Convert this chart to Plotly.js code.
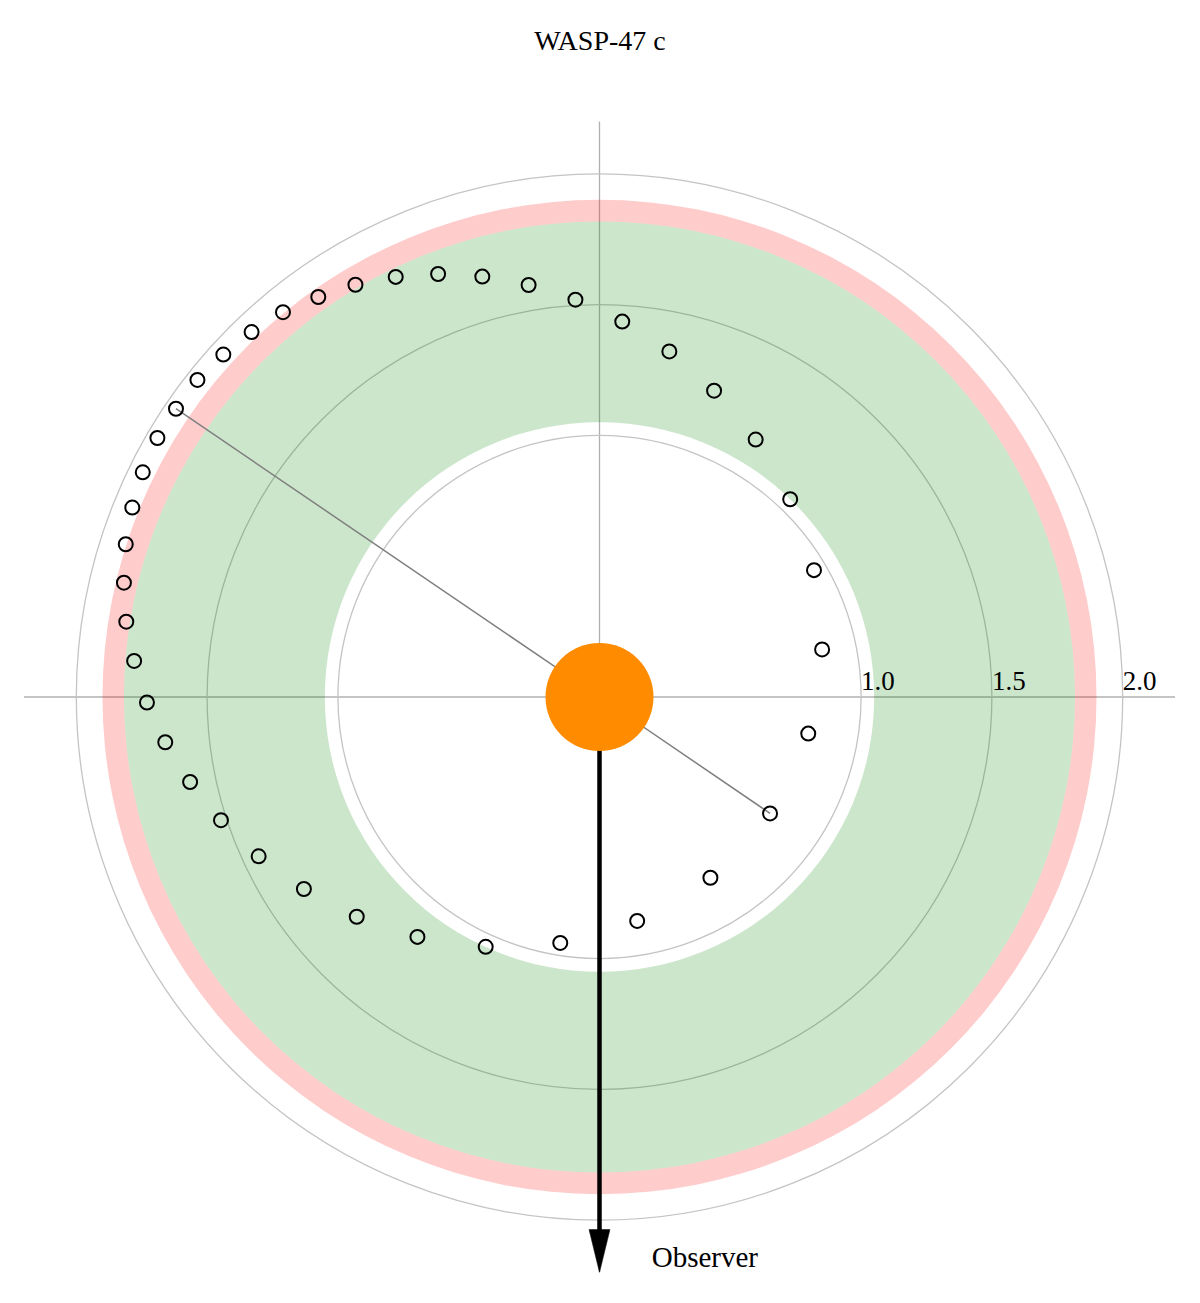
<!DOCTYPE html>
<html>
<head>
<meta charset="utf-8">
<script src="https://cdn.plot.ly/plotly-3.0.1.min.js"></script>
<style>
  html, body { margin: 0; padding: 0; background: #fff; }
  #chart { width: 1200px; height: 1303px; }
</style>
</head>
<body>
<div id="chart"></div>
<script>
// Planet positions along the orbit (AU, star at origin)
const orbitX = [-1.619, -1.537, -1.438, -1.330, -1.210, -1.075, -0.933, -0.779, -0.617, -0.448,
                -0.271, -0.092, 0.087, 0.267, 0.438, 0.597, 0.729, 0.820, 0.851, 0.798,
                0.652, 0.424, 0.144, -0.150, -0.435, -0.696, -0.928, -1.130, -1.303, -1.447,
                -1.565, -1.660, -1.730, -1.779, -1.809, -1.818, -1.811, -1.786, -1.746, -1.690];
const orbitY = [1.102, 1.212, 1.309, 1.395, 1.471, 1.529, 1.576, 1.606, 1.617, 1.607,
                1.575, 1.519, 1.435, 1.321, 1.171, 0.984, 0.756, 0.485, 0.182, -0.140,
                -0.445, -0.691, -0.856, -0.940, -0.955, -0.917, -0.840, -0.734, -0.609, -0.471,
                -0.325, -0.173, -0.021, 0.138, 0.288, 0.437, 0.584, 0.724, 0.859, 0.990];

// Line of apsides: apoapsis, star, periapsis
const apsisX = [-1.619, 0, 0.652];
const apsisY = [1.102, 0, -0.445];

// Habitable zone limits (AU)
const hzInner = 1.05;
const hzOuter = 1.818;
const hzOptOuter = 1.90;

// Radial ticks
const radialTicks = [1.0, 1.5, 2.0];
const radialTickText = ['1.0', '1.5', '2.0'];

const rMax = 2.2;
const observerAngle = 270;
const FONT = 'Liberation Serif, Times New Roman, serif';

const toR = (x, y) => x.map((v, i) => Math.hypot(v, y[i]));
const toTheta = (x, y) => x.map((v, i) => Math.atan2(y[i], v) * 180 / Math.PI);

// arrowhead geometry in AU
const headLen = 0.164;
const headHalf = 0.040;
const headBase = rMax - headLen;
const headSide = Math.hypot(headBase, headHalf);
const headDelta = Math.atan(headHalf / headBase) * 180 / Math.PI;

const traces = [
    {   // conservative habitable zone
        type: 'barpolar',
        r: [hzOuter - hzInner], base: [hzInner], theta: [0], width: [360],
        marker: { color: 'rgba(0,128,0,0.2)', line: { width: 0 } },
        hoverinfo: 'skip'
    },
    {   // optimistic habitable zone
        type: 'barpolar',
        r: [hzOptOuter - hzOuter], base: [hzOuter], theta: [0], width: [360],
        marker: { color: 'rgba(255,0,0,0.2)', line: { width: 0 } },
        hoverinfo: 'skip'
    },
    {   // line of apsides
        type: 'scatterpolar', mode: 'lines',
        r: toR(apsisX, apsisY), theta: toTheta(apsisX, apsisY),
        line: { color: '#7f7f7f', width: 1.5 },
        hoverinfo: 'skip'
    },
    {   // observer arrow shaft
        type: 'scatterpolar', mode: 'lines',
        r: [0, headBase + 0.01], theta: [observerAngle, observerAngle],
        line: { color: '#000', width: 4.5 },
        cliponaxis: false, hoverinfo: 'skip'
    },
    {   // observer arrow head
        type: 'scatterpolar', mode: 'lines', fill: 'toself',
        r: [headSide, rMax, headSide, headSide],
        theta: [observerAngle - headDelta, observerAngle, observerAngle + headDelta, observerAngle - headDelta],
        line: { color: '#000', width: 0.5 }, fillcolor: '#000',
        cliponaxis: false, hoverinfo: 'skip'
    },
    {   // star
        type: 'scatterpolar', mode: 'markers',
        r: [0], theta: [0],
        marker: { color: '#ff8c00', size: 108, line: { width: 0 } },
        hoverinfo: 'skip'
    },
    {   // planet positions
        type: 'scatterpolar', mode: 'markers',
        r: toR(orbitX, orbitY), theta: toTheta(orbitX, orbitY),
        marker: { symbol: 'circle-open', size: 14, color: '#000', line: { width: 2, color: '#000' } },
        cliponaxis: false
    },
    {   // radial tick labels
        type: 'scatterpolar', mode: 'text',
        r: radialTicks, theta: radialTicks.map(() => 0),
        text: radialTickText, textposition: 'top right',
        textfont: { family: FONT, size: 27, color: '#000' },
        cliponaxis: false, hoverinfo: 'skip'
    },
    {   // observer label
        type: 'scatterpolar', mode: 'text',
        r: [2.19], theta: [280.6],
        text: ['Observer'], textposition: 'middle center',
        textfont: { family: FONT, size: 29, color: '#000' },
        cliponaxis: false, hoverinfo: 'skip'
    }
];

const layout = {
    width: 1200,
    height: 1303,
    margin: { l: 0, r: 0, t: 0, b: 0 },
    paper_bgcolor: '#fff',
    showlegend: false,
    title: {
        text: 'WASP-47 c',
        font: { family: FONT, size: 28, color: '#000' },
        x: 0.5, xref: 'paper', y: 1 - 40 / 1303, yref: 'container', yanchor: 'middle'
    },
    polar: {
        domain: { x: [24 / 1200, 1175 / 1200], y: [30.5 / 1303, 1181.5 / 1303] },
        bgcolor: 'rgba(0,0,0,0)',
        radialaxis: {
            range: [0, rMax],
            tickvals: radialTicks,
            showticklabels: false,
            ticks: '',
            showline: false,
            gridcolor: '#c4c4c4',
            gridwidth: 1.3,
            layer: 'below traces'
        },
        angularaxis: {
            tickvals: [0, 90, 180, 270],
            showticklabels: false,
            ticks: '',
            showline: false,
            gridcolor: '#b0b0b0',
            gridwidth: 1.3,
            layer: 'below traces'
        }
    }
};

Plotly.newPlot('chart', traces, layout, { staticPlot: true });
</script>
</body>
</html>
